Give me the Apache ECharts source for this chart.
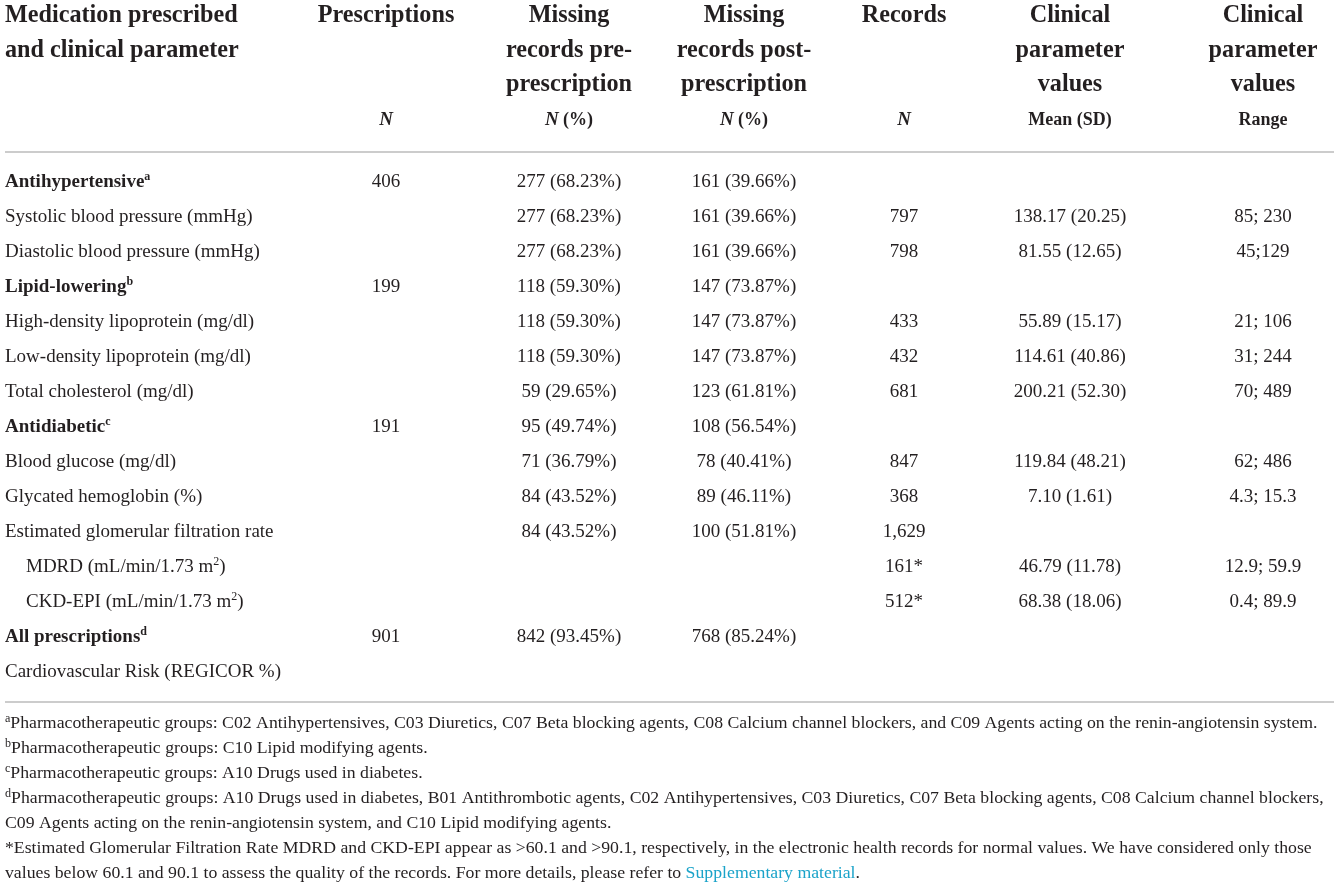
<!DOCTYPE html>
<html>
<head>
<meta charset="utf-8">
<script src="https://cdn.jsdelivr.net/npm/echarts@6/dist/echarts.min.js"></script>
<style>
html, body { margin: 0; padding: 0; background: #fff; }
#main { width: 1334px; height: 886px; }
</style>
</head>
<body>
<div id="main"></div>
<script>
// table data
var parameters = ['Antihypertensive', 'Systolic blood pressure (mmHg)', 'Diastolic blood pressure (mmHg)',
	'Lipid-lowering', 'High-density lipoprotein (mg/dl)', 'Low-density lipoprotein (mg/dl)', 'Total cholesterol (mg/dl)',
	'Antidiabetic', 'Blood glucose (mg/dl)', 'Glycated hemoglobin (%)', 'Estimated glomerular filtration rate',
	'MDRD (mL/min/1.73 m{sup|2})', 'CKD-EPI (mL/min/1.73 m{sup|2})', 'All prescriptions', 'Cardiovascular Risk (REGICOR %)'];
var noteMarks = ['a', '', '', 'b', '', '', '', 'c', '', '', '', '', '', 'd', ''];
var groupRows = [0, 3, 7, 13];
var subRows = [11, 12];
var prescriptions = ['406', '', '', '199', '', '', '', '191', '', '', '', '', '', '901', ''];
var missingPre = ['277 (68.23%)', '277 (68.23%)', '277 (68.23%)', '118 (59.30%)', '118 (59.30%)', '118 (59.30%)', '59 (29.65%)',
	'95 (49.74%)', '71 (36.79%)', '84 (43.52%)', '84 (43.52%)', '', '', '842 (93.45%)', ''];
var missingPost = ['161 (39.66%)', '161 (39.66%)', '161 (39.66%)', '147 (73.87%)', '147 (73.87%)', '147 (73.87%)', '123 (61.81%)',
	'108 (56.54%)', '78 (40.41%)', '89 (46.11%)', '100 (51.81%)', '', '', '768 (85.24%)', ''];
var records = ['', '797', '798', '', '433', '432', '681', '', '847', '368', '1,629', '161*', '512*', '', ''];
var meanSD = ['', '138.17 (20.25)', '81.55 (12.65)', '', '55.89 (15.17)', '114.61 (40.86)', '200.21 (52.30)',
	'', '119.84 (48.21)', '7.10 (1.61)', '', '46.79 (11.78)', '68.38 (18.06)', '', ''];
var ranges = ['', '85; 230', '45;129', '', '21; 106', '31; 244', '70; 489', '', '62; 486', '4.3; 15.3', '', '12.9; 59.9', '0.4; 89.9', '', ''];

var headers = [
	['Medication prescribed', 'and clinical parameter'],
	['Prescriptions'],
	['Missing', 'records pre-', 'prescription'],
	['Missing', 'records post-', 'prescription'],
	['Records'],
	['Clinical', 'parameter', 'values'],
	['Clinical', 'parameter', 'values']
];
var subHeaders = ['', '{i|N}', '{i|N} (%)', '{i|N} (%)', '{i|N}', 'Mean (SD)', 'Range'];

var footnotes = [
	['a', 'Pharmacotherapeutic groups: C02 Antihypertensives, C03 Diuretics, C07 Beta blocking agents, C08 Calcium channel blockers, and C09 Agents acting on the renin-angiotensin system.'],
	['b', 'Pharmacotherapeutic groups: C10 Lipid modifying agents.'],
	['c', 'Pharmacotherapeutic groups: A10 Drugs used in diabetes.'],
	['d', 'Pharmacotherapeutic groups: A10 Drugs used in diabetes, B01 Antithrombotic agents, C02 Antihypertensives, C03 Diuretics, C07 Beta blocking agents, C08 Calcium channel blockers,'],
	['', 'C09 Agents acting on the renin-angiotensin system, and C10 Lipid modifying agents.'],
	['', '*Estimated Glomerular Filtration Rate MDRD and CKD-EPI appear as >60.1 and >90.1, respectively, in the electronic health records for normal values. We have considered only those'],
	['', 'values below 60.1 and 90.1 to assess the quality of the records. For more details, please refer to {link|Supplementary material}.']
];

// layout
var FONT = '"Liberation Serif", "Times New Roman", serif';
var INK = '#231f20';
var colX = [5, 386, 569, 744, 904, 1070, 1263];
var rowTop = 164.5, rowH = 35;

function measure(text, size) {
	var c = document.createElement('canvas').getContext('2d');
	c.font = size + 'px ' + FONT;
	return c.measureText(text).width;
}
var noteSize = 100 * 1308 / measure(footnotes[0][1], 100);

function tok(size, weight, style, extra) {
	var o = {fontSize: size, fontFamily: FONT, fontWeight: weight || 'normal', fontStyle: style || 'normal', fill: INK};
	for (var k in extra) o[k] = extra[k];
	return o;
}

var bodyRich = {
	n: tok(19, 'normal', 'normal', {lineHeight: 22}),
	b: tok(19, 'bold', 'normal', {lineHeight: 22}),
	sup: tok(12, 'normal', 'normal', {lineHeight: 12, verticalAlign: 'top'}),
	bsup: tok(12, 'bold', 'normal', {lineHeight: 12, verticalAlign: 'top'})
};

function cellText(x, y, text, align) {
	return {
		type: 'text', x: x, y: y,
		style: {text: text, align: align, verticalAlign: 'middle', fill: INK, fontSize: 19, fontFamily: FONT, lineHeight: 22, rich: bodyRich}
	};
}

function renderRow(params, api) {
	var i = params.dataIndex;
	var y = api.coord([0, i])[1];
	var isGroup = groupRows.indexOf(i) >= 0;
	var label = parameters[i].split(/(\{sup\|2\})/).map(function (s) {
		if (s === '{sup|2}') return s;
		return s ? '{' + (isGroup ? 'b' : 'n') + '|' + s + '}' : '';
	}).join('');
	if (noteMarks[i]) label += '{' + (isGroup ? 'bsup' : 'sup') + '|' + noteMarks[i] + '}';
	var x0 = api.coord([colX[0], 0])[0] + (subRows.indexOf(i) >= 0 ? 21 : 0);
	var cols = [prescriptions, missingPre, missingPost, records, meanSD, ranges];
	var children = [cellText(x0, y, label, 'left')];
	cols.forEach(function (arr, c) {
		if (arr[i]) children.push(cellText(api.coord([colX[c + 1], 0])[0], y, arr[i], 'center'));
	});
	return {type: 'group', children: children};
}

var graphics = [];
var headRich = {
	i: tok(19, 'bold', 'italic')
};
headers.forEach(function (lines, c) {
	lines.forEach(function (t, k) {
		graphics.push({
			type: 'text', x: colX[c], y: 16 + k * 34.5,
			style: {text: t, align: c === 0 ? 'left' : 'center', verticalAlign: 'middle', fill: INK,
				fontSize: 24.2, fontWeight: 'bold', fontFamily: FONT}
		});
	});
	if (subHeaders[c]) {
		graphics.push({
			type: 'text', x: colX[c], y: 120,
			style: {text: subHeaders[c], align: 'center', verticalAlign: 'middle', fill: INK,
				fontSize: 18, fontWeight: 'bold', fontFamily: FONT, rich: headRich}
		});
	}
});

[152, 702].forEach(function (y) {
	graphics.push({type: 'line', shape: {x1: 5, y1: y, x2: 1334, y2: y}, style: {stroke: '#cccccc', lineWidth: 2}});
});

var noteRich = {
	m: tok(noteSize * 0.68, 'normal', 'normal', {lineHeight: 12, verticalAlign: 'top'}),
	t: tok(noteSize, 'normal', 'normal', {lineHeight: 20}),
	link: tok(noteSize, 'normal', 'normal', {lineHeight: 20, fill: '#1aa3c9'})
};
footnotes.forEach(function (f, k) {
	var txt = (f[0] ? '{m|' + f[0] + '}' : '') + f[1].split(/(\{link\|[^}]*\})/).map(function (s) {
		return s.indexOf('{link|') === 0 ? s : (s ? '{t|' + s + '}' : '');
	}).join('');
	graphics.push({
		type: 'text', x: 5, y: 723 + k * 25,
		style: {text: txt, align: 'left', verticalAlign: 'middle', fill: INK, fontSize: noteSize, fontFamily: FONT, rich: noteRich}
	});
});

var chart = echarts.init(document.getElementById('main'));
chart.setOption({
	backgroundColor: '#ffffff',
	animation: false,
	grid: {left: 0, right: 0, top: rowTop, height: rowH * parameters.length},
	xAxis: {type: 'value', min: 0, max: 1334, show: false},
	yAxis: {type: 'category', data: parameters, inverse: true, show: false},
	graphic: graphics,
	series: [{
		type: 'custom',
		renderItem: renderRow,
		data: parameters.map(function (p, i) { return [0, i]; }),
		encode: {x: 0, y: 1}
	}]
});
</script>
</body>
</html>
